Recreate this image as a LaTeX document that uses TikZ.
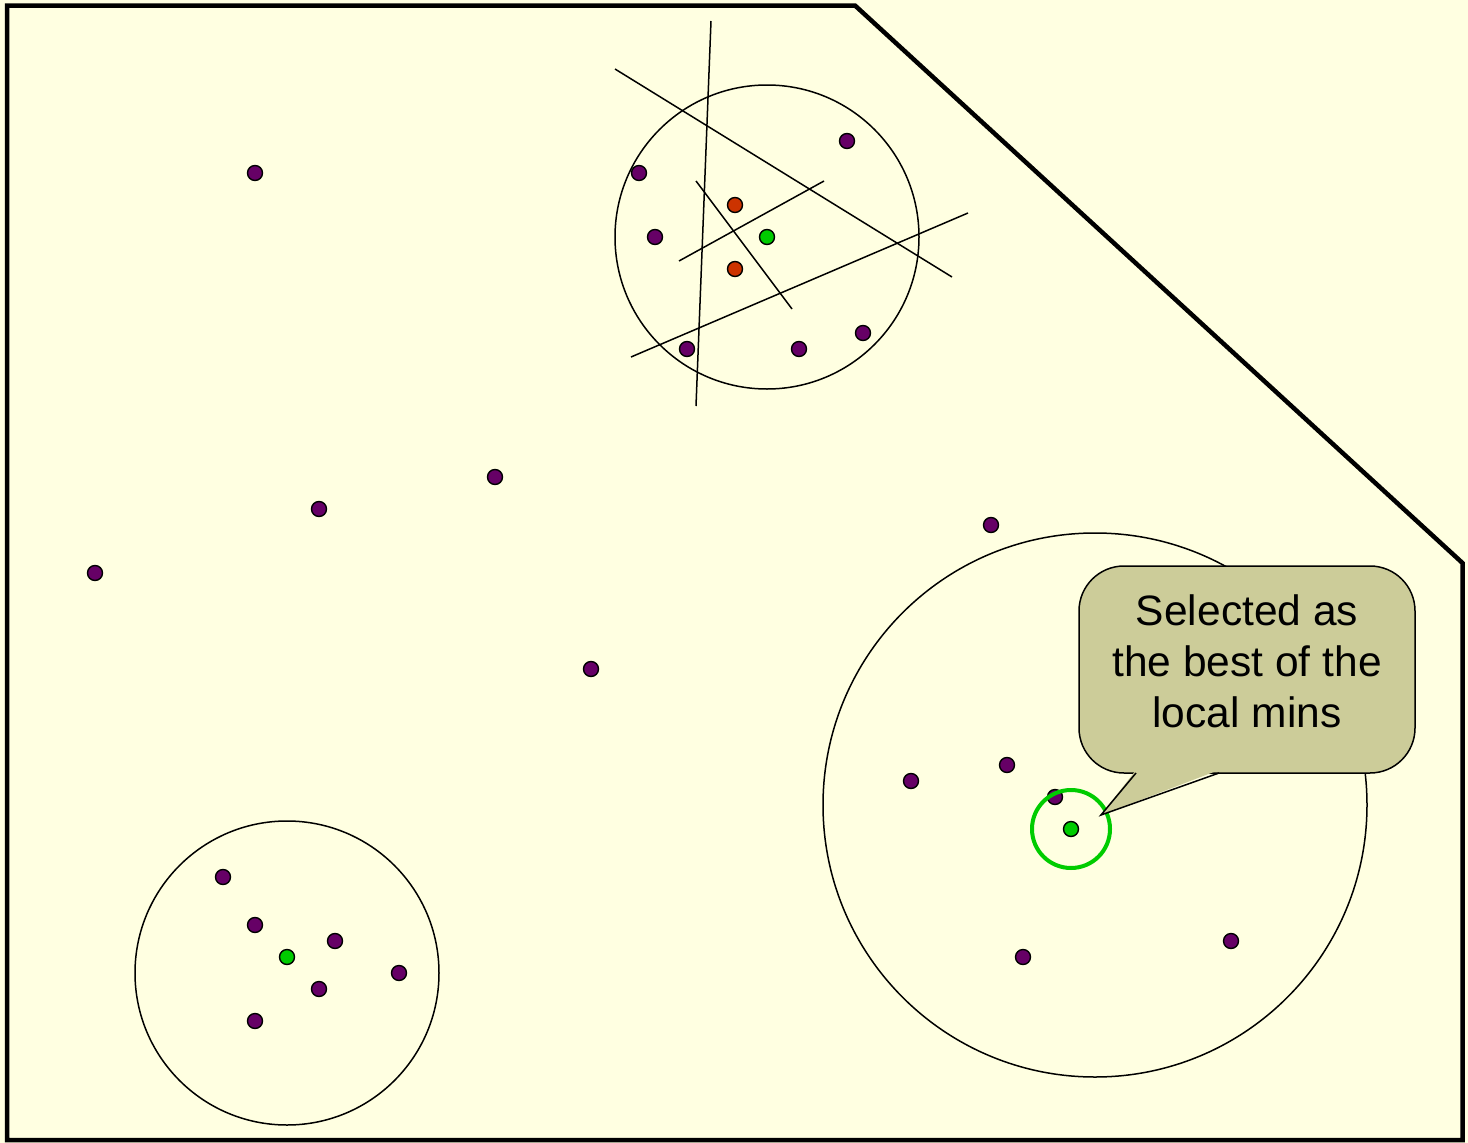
\documentclass[tikz,border=0pt]{standalone}
\usepackage{fontspec}
\setmainfont{Liberation Sans}
\definecolor{bgyellow}{RGB}{255,255,225}
\definecolor{dotpurple}{RGB}{102,0,102}
\definecolor{dotgreen}{RGB}{0,204,0}
\definecolor{dotorange}{RGB}{204,51,0}
\definecolor{calloutfill}{RGB}{204,204,153}
\begin{document}
\begin{tikzpicture}[x=1pt,y=-1pt,
  dotbase/.style={circle,draw=black,line width=1.4pt,inner sep=0pt,minimum size=15pt},
  pdot/.style={dotbase,fill=dotpurple},
  gdot/.style={dotbase,fill=dotgreen},
  odot/.style={dotbase,fill=dotorange},
  region/.style={circle,draw=black,line width=1.5pt,inner sep=0pt},
  cutline/.style={draw=black,line width=1.5pt},
  frame/.style={draw=black,line width=4.5pt,line join=miter},
  callout/.style={draw=black,line width=1.5pt,fill=calloutfill,rounded corners=45pt,
     minimum width=336pt,minimum height=207pt,align=center,inner sep=0pt,text depth=16pt,
     font=\fontsize{42.5}{51}\selectfont}]
\useasboundingbox (0,0) rectangle (1468,1143);
\fill[bgyellow] (0,0) rectangle (1468,1143);
\draw[frame] (7,5.5) -- (855,5.5) -- (1462.5,563) -- (1462.5,1140) -- (7,1140) -- cycle;

% regions
\node[region,minimum size=304pt] (rtop) at (767,237) {};
\node[region,minimum size=304pt] (rbl) at (287,973) {};
\node[region,minimum size=544pt] (rbig) at (1095,805) {};

% cutting lines in top region
\coordinate (l1a) at (711,21);  \coordinate (l1b) at (696,406);
\coordinate (l2a) at (615,69);  \coordinate (l2b) at (952,277);
\coordinate (l3a) at (696,181); \coordinate (l3b) at (792,309);
\coordinate (l4a) at (679,261); \coordinate (l4b) at (824,181);
\coordinate (l5a) at (631,357); \coordinate (l5b) at (968,213);
\draw[cutline] (l1a) -- (l1b);
\draw[cutline] (l2a) -- (l2b);
\draw[cutline] (l3a) -- (l3b);
\draw[cutline] (l4a) -- (l4b);
\draw[cutline] (l5a) -- (l5b);

% scattered points
\node[pdot] (p1) at (255,173) {};
\node[pdot] (p2) at (95,573) {};
\node[pdot] (p3) at (319,509) {};
\node[pdot] (p4) at (495,477) {};
\node[pdot] (p5) at (591,669) {};
\node[pdot] (p6) at (991,525) {};

% top region points
\node[pdot] (t1) at (847,141) {};
\node[pdot] (t2) at (639,173) {};
\node[pdot] (t3) at (655,237) {};
\node[odot] (t4) at (735,205) {};
\node[gdot] (t5) at (767,237) {};
\node[odot] (t6) at (735,269) {};
\node[pdot] (t7) at (687,349) {};
\node[pdot] (t8) at (799,349) {};
\node[pdot] (t9) at (863,333) {};

% bottom-left region points
\node[pdot] (b1) at (223,877) {};
\node[pdot] (b2) at (255,925) {};
\node[pdot] (b3) at (335,941) {};
\node[gdot] (b4) at (287,957) {};
\node[pdot] (b5) at (399,973) {};
\node[pdot] (b6) at (319,989) {};
\node[pdot] (b7) at (255,1021) {};

% big region points
\node[pdot] (g1) at (911,781) {};
\node[pdot] (g2) at (1007,765) {};
\node[pdot] (g3) at (1055,797) {};
\node[gdot] (g4) at (1071,829) {};
\node[pdot] (g5) at (1023,957) {};
\node[pdot] (g6) at (1231,941) {};
\node[circle,draw=dotgreen,line width=4pt,minimum size=78pt,inner sep=0pt] (ring) at (g4) {};

% callout
\node[callout] (note) at (1247,669.5) {Selected as\\the best of the\\local mins};
\coordinate (tip) at (1101,815);
\coordinate (pa) at (1136,773);
\coordinate (pb) at (1219,773);
\fill[calloutfill] (tip) -- (1136,770) -- (1219,770) -- cycle;
\draw[black,line width=1.5pt] (pa) -- (tip) -- (pb);
\end{tikzpicture}
\end{document}
